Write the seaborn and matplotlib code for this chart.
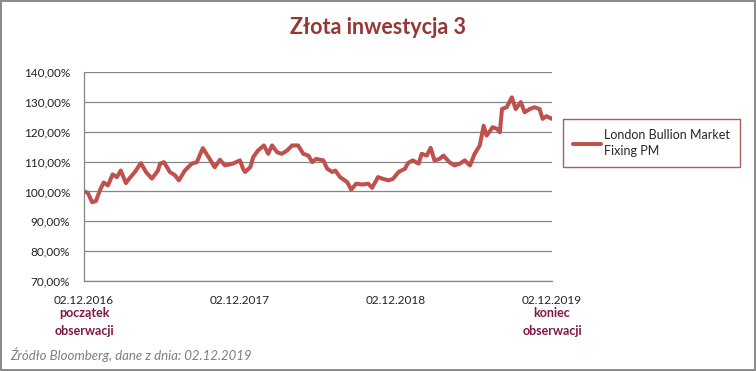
import pandas as pd
import seaborn as sns
import matplotlib.pyplot as plt
import matplotlib.dates as mdates
from matplotlib.ticker import FuncFormatter

# Values (index, %)
dates = [
    "2016-12-02", "2016-12-11", "2016-12-21", "2016-12-30", "2017-01-08", "2017-01-17",
    "2017-01-27", "2017-02-07", "2017-02-17", "2017-02-26", "2017-03-10", "2017-03-19",
    "2017-03-31", "2017-04-14", "2017-04-26", "2017-05-10", "2017-05-24", "2017-05-29",
    "2017-06-07", "2017-06-21", "2017-07-03", "2017-07-12", "2017-07-26", "2017-08-11",
    "2017-08-23", "2017-09-06", "2017-09-22", "2017-10-04", "2017-10-16", "2017-10-28",
    "2017-11-15", "2017-12-02", "2017-12-09", "2017-12-14", "2017-12-26", "2018-01-02",
    "2018-01-13", "2018-01-27", "2018-02-06", "2018-02-15", "2018-02-27", "2018-03-10",
    "2018-03-22", "2018-04-03", "2018-04-17", "2018-04-29", "2018-05-11", "2018-05-20",
    "2018-05-29", "2018-06-08", "2018-06-15", "2018-06-24", "2018-07-06", "2018-07-13",
    "2018-07-24", "2018-08-10", "2018-08-19", "2018-08-31", "2018-09-14", "2018-09-28",
    "2018-10-07", "2018-10-21", "2018-11-02", "2018-11-14", "2018-11-25", "2018-12-08",
    "2018-12-23", "2018-12-30", "2019-01-10", "2019-01-24", "2019-01-31", "2019-02-12",
    "2019-02-21", "2019-03-02", "2019-03-14", "2019-03-23", "2019-04-06", "2019-04-18",
    "2019-04-30", "2019-05-12", "2019-05-24", "2019-06-04", "2019-06-16", "2019-06-25",
    "2019-07-02", "2019-07-16", "2019-07-26", "2019-08-02", "2019-08-07", "2019-08-18",
    "2019-08-30", "2019-09-08", "2019-09-20", "2019-09-29", "2019-10-11", "2019-10-22",
    "2019-11-03", "2019-11-10", "2019-11-19", "2019-12-02",
]
values = [
    100.0, 99.5, 96.4, 96.8, 100.3, 103.0,
    102.0, 105.7, 104.8, 107.0, 102.8, 104.5,
    106.5, 109.5, 106.5, 104.3, 107.0, 109.3,
    109.8, 106.5, 105.4, 103.7, 107.0, 109.3,
    109.8, 114.5, 110.9, 108.1, 110.6, 108.7,
    109.3, 110.4, 107.6, 106.5, 108.1, 111.5,
    113.7, 115.4, 112.6, 115.4, 113.1, 112.6,
    113.7, 115.4, 115.4, 112.6, 112.0, 109.8,
    110.9, 110.6, 110.4, 107.6, 106.5, 107.0,
    104.8, 103.1, 100.6, 102.6, 102.3, 102.6,
    101.2, 104.8, 104.2, 103.7, 104.2, 106.5,
    107.6, 109.5, 110.4, 109.3, 112.6, 112.0,
    114.6, 110.4, 110.9, 112.0, 109.8, 108.7,
    109.3, 110.4, 108.7, 112.6, 115.4, 122.0,
    118.7, 121.5, 121.0, 119.8, 127.6, 128.2,
    131.5, 127.6, 129.9, 126.5, 127.6, 128.2,
    127.6, 124.3, 125.2, 124.3,
]
tick_dates = ["2016-12-02", "2017-12-02", "2018-12-02", "2019-12-02"]
series_name = "London Bullion Market\nFixing PM"

df = pd.DataFrame({"date": pd.to_datetime(dates), "value": values})

sns.set_style("white")
plt.rcParams["font.family"] = ["Lato", "DejaVu Sans"]

grey = "#868686"
fig = plt.figure(figsize=(7.56, 3.71), dpi=100, linewidth=1.5, edgecolor="#8c8c8c")
ax = fig.add_axes([84 / 756, 1 - 281 / 371, 468 / 756, 209 / 371])

sns.lineplot(data=df, x="date", y="value", ax=ax, color="#C0504D", linewidth=2.9,
             label=series_name)

ax.set_ylim(70, 140)
ax.set_yticks(range(70, 141, 10))
ax.yaxis.set_major_formatter(FuncFormatter(lambda v, p: f"{v:.2f}%".replace(".", ",")))
ax.set_xlim(pd.Timestamp(tick_dates[0]), pd.Timestamp(tick_dates[-1]))
ax.set_xticks(pd.to_datetime(tick_dates))
ax.xaxis.set_major_formatter(mdates.DateFormatter("%d.%m.%Y"))
ax.set_xlabel("")
ax.set_ylabel("")

ax.grid(axis="y", color=grey, linewidth=0.9)
ax.set_axisbelow(True)
for s in ["top", "right"]:
    ax.spines[s].set_visible(False)
for s in ["left", "bottom"]:
    ax.spines[s].set_color(grey)
    ax.spines[s].set_linewidth(0.9)
ax.tick_params(axis="both", length=4, color=grey, width=0.9, labelsize=8.5,
               labelcolor="#222222")
ax.tick_params(axis="y", pad=6)
ax.tick_params(axis="x", pad=6)

leg = ax.legend(loc="upper left", bbox_to_anchor=(563 / 756, 1 - 119 / 371),
                bbox_transform=fig.transFigure, fancybox=False, frameon=True,
                fontsize=9, handlelength=2.2, handletextpad=0.3, borderpad=0.8,
                borderaxespad=0)
leg.get_frame().set_edgecolor("#953735")
leg.get_frame().set_linewidth(1.0)
for t in leg.get_texts():
    t.set_linespacing(1.45)

fig.text(0.5, 1 - 27 / 371, "Złota inwestycja 3", ha="center", va="center",
         fontsize=15.5, fontweight="bold", color="#953735")

lab_color = "#7F1846"
fig.text(84 / 756, 1 - 322 / 371, "początek\nobserwacji", ha="center", va="center",
         fontsize=9, fontweight="bold", color=lab_color, linespacing=1.55)
fig.text(552 / 756, 1 - 322 / 371, "koniec\nobserwacji", ha="center", va="center",
         fontsize=9, fontweight="bold", color=lab_color, linespacing=1.55)
fig.text(10 / 756, 1 - 355 / 371, "Źródło Bloomberg, dane z dnia: 02.12.2019",
         ha="left", va="center", fontsize=9.5, style="italic", color="#7f7f7f")

fig.savefig("out.png", dpi=100)
plt.close(fig)
